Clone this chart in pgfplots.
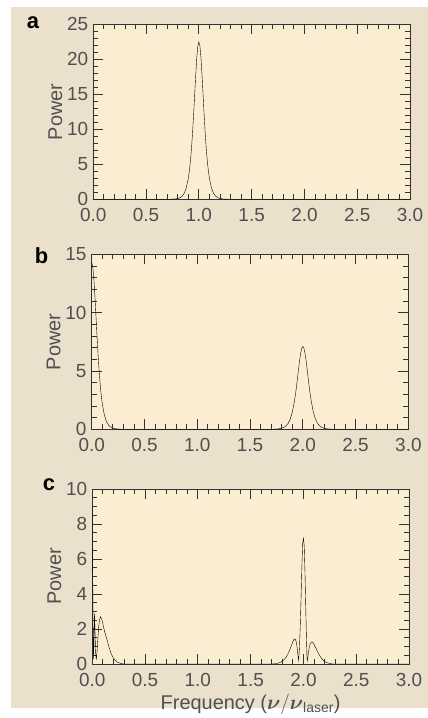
\documentclass[border=0pt]{standalone}
\usepackage{pgfplots}
\pgfplotsset{compat=1.18}
\usepackage{amsmath}
\usepackage{fontspec}
\setmainfont{Liberation Sans}

\definecolor{outerbg}{RGB}{235,224,203}
\definecolor{innerbg}{RGB}{251,237,210}
\definecolor{txt}{RGB}{80,80,80}

\pgfplotsset{
  panel/.style={
    scale only axis,
    width=316.7bp, height=175bp,
    anchor=south west,
    xmin=0, xmax=3,
    xtick={0,0.5,1,1.5,2,2.5,3},
    minor x tick num=4,
    xticklabel style={inner sep=0pt, yshift=-9bp, /pgf/number format/.cd, fixed, fixed zerofill, precision=1},
    yticklabel style={inner sep=0pt, xshift=-5bp},
    tick align=inside,
    major tick length=10bp, minor tick length=5bp,
    axis background/.style={fill=innerbg},
    axis line style={draw=black!80, line width=0.8bp},
    every tick/.style={black!80, line width=0.8bp},
    tick label style={font=\fontsize{19}{19}\selectfont, text=txt},
    /pgf/number format/assume math mode=true,
    ylabel={Power},
    ylabel style={at={(axis description cs:-0.12,0.5)}, anchor=center,
      font=\fontsize{20}{20}\selectfont, text=txt},
    xlabel style={font=\fontsize{20}{20}\selectfont, text=txt, yshift=-4bp},
    cycle list={{black, line width=0.8bp, no marks}},
  },
}
\tikzset{panellabel/.style={font=\bfseries\fontsize{22}{22}\selectfont, black}}

\begin{document}
\begin{tikzpicture}
\path[use as bounding box, fill=white] (0,0) rectangle (428bp,718bp);
\fill[outerbg] (11bp,10bp) rectangle (428bp,711bp);

% panel a
\begin{axis}[panel, at={(93.3bp,518.7bp)},
    ymin=0, ymax=25, ytick={0,5,10,15,20,25}, minor y tick num=4]
\addplot coordinates {(0,0) (0.70,0) (0.75,0.02) (0.78,0.06) (0.80,0.11) (0.82,0.22)
  (0.84,0.43) (0.86,0.83) (0.88,1.59) (0.90,2.99) (0.91,4.07) (0.92,5.47) (0.93,7.24)
  (0.94,9.45) (0.95,12.03) (0.96,14.86) (0.97,17.70) (0.98,20.18) (0.99,21.89) (1.00,22.5)
  (1.01,21.89) (1.02,20.18) (1.03,17.70) (1.04,14.86) (1.05,12.03) (1.06,9.45) (1.07,7.24)
  (1.08,5.47) (1.09,4.07) (1.10,2.99) (1.12,1.59) (1.14,0.83) (1.16,0.43) (1.18,0.22)
  (1.20,0.11) (1.22,0.06) (1.25,0.02) (1.30,0) (3,0)};
\end{axis}
\node[panellabel] at (33bp,695bp) {a};

% panel b
\begin{axis}[panel, at={(91.7bp,288.7bp)},
    ymin=0, ymax=15, ytick={0,5,10,15}, minor y tick num=4]
\addplot coordinates {(0,14.3) (0.01,13.95) (0.02,12.95) (0.03,11.49) (0.04,9.79)
  (0.05,8.06) (0.06,6.45) (0.07,5.05) (0.08,3.88) (0.09,2.94) (0.10,2.20) (0.12,1.21)
  (0.14,0.66) (0.16,0.35) (0.18,0.19) (0.20,0.10) (0.23,0.04) (0.27,0.01) (0.30,0)
  (1.70,0) (1.73,0.01) (1.77,0.04) (1.80,0.09) (1.82,0.16) (1.84,0.29) (1.86,0.50)
  (1.88,0.86) (1.90,1.46) (1.92,2.38) (1.93,2.98) (1.94,3.67) (1.95,4.43) (1.96,5.21)
  (1.97,5.94) (1.98,6.55) (1.99,6.96) (2.00,7.10) (2.01,6.96) (2.02,6.55) (2.03,5.94)
  (2.04,5.21) (2.05,4.43) (2.06,3.67) (2.07,2.98) (2.08,2.38) (2.10,1.46) (2.12,0.86)
  (2.14,0.50) (2.16,0.29) (2.18,0.16) (2.20,0.09) (2.23,0.04) (2.27,0.01) (2.30,0) (3,0)};
\end{axis}
\node[panellabel] at (41.5bp,462bp) {b};

% panel c
\begin{axis}[panel, at={(92.3bp,54bp)},
    ymin=0, ymax=10, ytick={0,2,4,6,8,10}, minor y tick num=3,
    xlabel={Frequency ($\boldsymbol{\nu}/\boldsymbol{\nu}_{\text{laser}}$)}]
\addplot coordinates {(0,9.0) (0.004,5.0) (0.008,1.2) (0.012,0.3) (0.016,1.6) (0.021,2.9)
  (0.026,1.8) (0.032,0.6) (0.038,0.25) (0.045,0.7) (0.052,1.4) (0.060,2.1) (0.068,2.5)
  (0.078,2.70) (0.09,2.55) (0.10,2.30) (0.11,2.02) (0.12,1.78) (0.13,1.57) (0.14,1.38)
  (0.15,1.15) (0.16,0.93) (0.17,0.74) (0.18,0.58) (0.19,0.45) (0.20,0.34) (0.22,0.19)
  (0.24,0.10) (0.26,0.05) (0.28,0.02) (0.30,0)
  (1.70,0) (1.72,0.01) (1.74,0.02) (1.76,0.05) (1.78,0.09) (1.80,0.16) (1.82,0.27)
  (1.84,0.42) (1.86,0.66) (1.88,0.95) (1.89,1.12) (1.90,1.28) (1.91,1.40) (1.92,1.43)
  (1.93,1.32) (1.94,0.95) (1.95,0.40) (1.955,0.2) (1.962,0.9) (1.97,2.2) (1.978,3.9)
  (1.986,5.7) (1.993,6.9) (2.000,7.18) (2.007,6.8) (2.014,5.4) (2.021,3.5) (2.028,1.6)
  (2.034,0.35) (2.038,0.2) (2.045,0.55) (2.055,0.95) (2.065,1.18) (2.08,1.27) (2.09,1.23)
  (2.10,1.12) (2.12,0.88) (2.14,0.63) (2.16,0.42) (2.18,0.26) (2.20,0.15) (2.22,0.08)
  (2.25,0.03) (2.28,0) (3,0)};
\end{axis}
\node[panellabel] at (49bp,233bp) {c};
\end{tikzpicture}
\end{document}
